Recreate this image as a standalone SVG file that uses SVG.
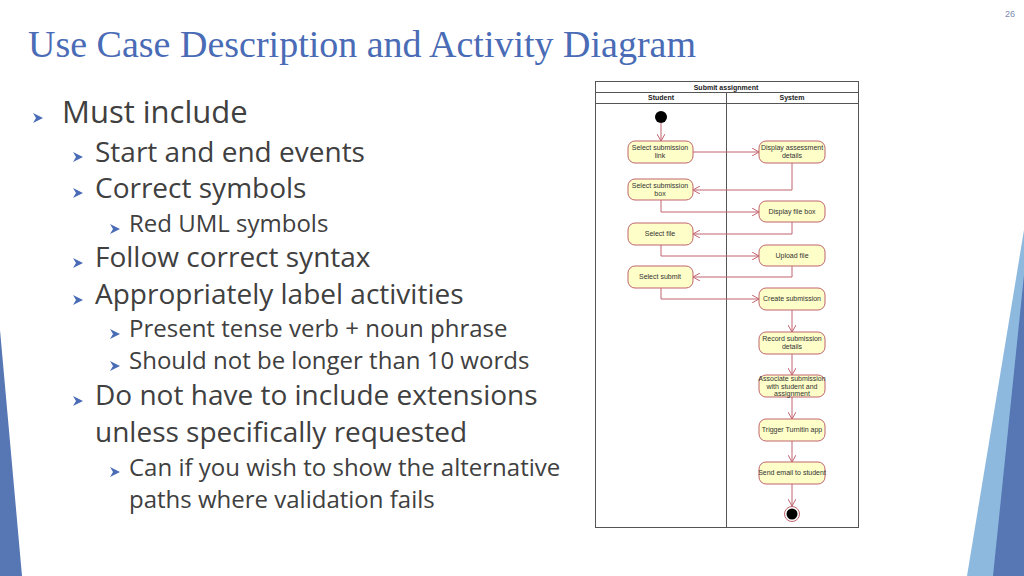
<svg xmlns="http://www.w3.org/2000/svg" width="1024" height="576" viewBox="0 0 1024 576">
<style>
.t{font-family:"Open Sans","Liberation Sans",sans-serif;fill:#404040}
.l1{font-size:31px}.l2{font-size:28px}.l3{font-size:24px}
.b{fill:#4a6bb5}
.n rect{fill:#fefec9;stroke:#c0646e;stroke-width:1}
.n text{font-family:"Liberation Sans",Arial,sans-serif;font-size:7px;fill:#333;text-anchor:middle}
.c path{fill:none;stroke:#c0646e;stroke-width:1;marker-end:url(#a)}
.h{font-family:"Liberation Sans",Arial,sans-serif;font-size:7px;font-weight:bold;fill:#222;text-anchor:middle}
</style>
<defs>
<marker id="a" markerWidth="8" markerHeight="8" refX="7" refY="4" orient="auto" markerUnits="userSpaceOnUse"><path d="M0,0 L7,4 L0,8" fill="none" stroke="#c0646e"/></marker>
<path id="bl" d="M0,0 L10,5 L0,10 L3,5 Z"/>
</defs>
<rect width="1024" height="576" fill="#fff"/>
<polygon points="1024,230 1024,576 967,576" fill="#8db9df"/>
<polygon points="1024,275 1024,576 993,576" fill="#5676b4"/>
<polygon points="0,330 0,576 22,576" fill="#5676b4"/>
<text x="1010" y="17" font-family="Liberation Sans,sans-serif" font-size="9" fill="#7a8ab0" text-anchor="middle">26</text>
<text x="28" y="57" font-family="'Liberation Serif',serif" font-size="38" fill="#4a6bb5">Use Case Description and Activity Diagram</text>
<g class="b">
<use href="#bl" x="33" y="113"/>
<use href="#bl" x="73" y="152" transform=""/>
<use href="#bl" x="73" y="188"/>
<use href="#bl" x="110" y="224"/>
<use href="#bl" x="73" y="258"/>
<use href="#bl" x="73" y="295"/>
<use href="#bl" x="110" y="329"/>
<use href="#bl" x="110" y="361"/>
<use href="#bl" x="73" y="396"/>
<use href="#bl" x="110" y="467"/>
</g>
<text class="t l1" x="62" y="123">Must include</text>
<text class="t l2" x="95" y="162">Start and end events</text>
<text class="t l2" x="95" y="198">Correct symbols</text>
<text class="t l3" x="129" y="232">Red UML symbols</text>
<text class="t l2" x="95" y="267">Follow correct syntax</text>
<text class="t l2" x="95" y="304">Appropriately label activities</text>
<text class="t l3" x="129" y="337">Present tense verb + noun phrase</text>
<text class="t l3" x="129" y="369">Should not be longer than 10 words</text>
<text class="t l2" x="95" y="405">Do not have to include extensions</text>
<text class="t l2" x="95" y="442">unless specifically requested</text>
<text class="t l3" x="129" y="476">Can if you wish to show the alternative</text>
<text class="t l3" x="129" y="508">paths where validation fails</text>
<g id="frame" fill="none" stroke="#555" stroke-width="1">
<rect x="595.5" y="81.5" width="263" height="446"/>
<line x1="595" y1="92.5" x2="858" y2="92.5"/>
<line x1="595" y1="103.5" x2="858" y2="103.5"/>
<line x1="726.5" y1="92" x2="726.5" y2="527"/>
</g>
<text class="h" x="726" y="90">Submit assignment</text>
<text class="h" x="661" y="100">Student</text>
<text class="h" x="792" y="100">System</text>
<g class="c">
<path d="M661,123 V141"/>
<path d="M693,152 H759"/>
<path d="M792,163 V190 H693"/>
<path d="M661,200 V212 H759"/>
<path d="M792,222 V234 H693"/>
<path d="M661,245 V256 H759"/>
<path d="M792,266 V277 H693"/>
<path d="M661,288 V299 H759"/>
<path d="M792,310 V332"/>
<path d="M792,354 V375"/>
<path d="M792,397 V419"/>
<path d="M792,441 V462"/>
<path d="M792,484 V506"/>
</g>
<g id="start"><circle cx="661" cy="117" r="6" fill="#000"/></g>
<g id="end"><circle cx="792" cy="514" r="7.5" fill="#fff" stroke="#c0646e"/><circle cx="792" cy="514" r="5.5" fill="#000"/></g>
<g id="n1" class="n"><rect x="628" y="141" width="65" height="22" rx="7"/><text x="660" y="150">Select submission</text><text x="660" y="158">link</text></g>
<g id="n2" class="n"><rect x="759" y="141" width="66" height="22" rx="7"/><text x="792" y="150">Display assessment</text><text x="792" y="158">details</text></g>
<g id="n3" class="n"><rect x="628" y="179" width="65" height="21" rx="7"/><text x="660" y="188">Select submission</text><text x="660" y="196">box</text></g>
<g id="n4" class="n"><rect x="759" y="201" width="66" height="21" rx="7"/><text x="792" y="214">Display file box</text></g>
<g id="n5" class="n"><rect x="628" y="223" width="65" height="22" rx="7"/><text x="660" y="236">Select file</text></g>
<g id="n6" class="n"><rect x="759" y="245" width="66" height="21" rx="7"/><text x="792" y="258">Upload file</text></g>
<g id="n7" class="n"><rect x="628" y="266" width="65" height="22" rx="7"/><text x="660" y="279">Select submit</text></g>
<g id="n8" class="n"><rect x="759" y="288" width="66" height="22" rx="7"/><text x="792" y="301">Create submission</text></g>
<g id="n9" class="n"><rect x="759" y="332" width="66" height="22" rx="7"/><text x="792" y="341">Record submission</text><text x="792" y="349">details</text></g>
<g id="n10" class="n"><rect x="759" y="375" width="66" height="22" rx="7"/><text x="792" y="381">Associate submission</text><text x="792" y="389">with student and</text><text x="792" y="396">assignment</text></g>
<g id="n11" class="n"><rect x="759" y="419" width="66" height="22" rx="7"/><text x="792" y="432">Trigger Turnitin app</text></g>
<g id="n12" class="n"><rect x="759" y="462" width="66" height="22" rx="7"/><text x="792" y="475">Send email to student</text></g>
</svg>
